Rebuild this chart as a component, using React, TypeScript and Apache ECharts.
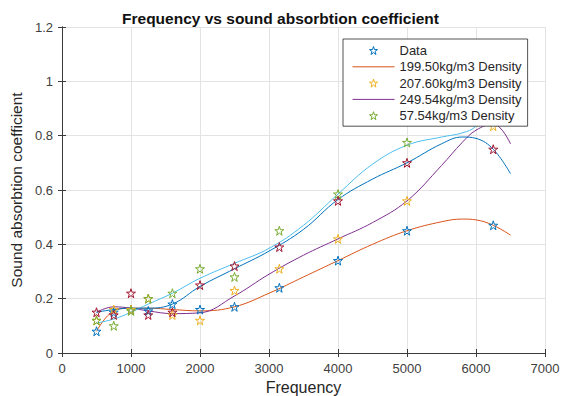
import React, { useEffect, useRef } from "react";
import * as echarts from "echarts";

// Measured frequencies (Hz)
const freqs = [500, 750, 1000, 1250, 1600, 2000, 2500, 3150, 4000, 5000, 6250];
// Star data sets
const data1 = [0.08, 0.15, 0.16, 0.155, 0.18, 0.16, 0.17, 0.24, 0.34, 0.45, 0.47];
const data2 = [0.12, 0.16, 0.16, 0.2, 0.14, 0.12, 0.23, 0.31, 0.42, 0.56, 0.835];
const data3 = [0.12, 0.1, 0.155, 0.2, 0.22, 0.31, 0.28, 0.45, 0.585, 0.775, 0.95];
const data4 = [0.15, 0.14, 0.22, 0.14, 0.15, 0.25, 0.32, 0.39, 0.56, 0.7, 0.75];

// Fitted curves, read at these frequencies
const fitFreqs = [500, 750, 1000, 1250, 1600, 2000, 2500, 3000, 3500, 4000, 4500, 5000, 5500, 5800, 6000, 6250, 6500];
const fit1 = [0.08, 0.155, 0.165, 0.165, 0.16, 0.155, 0.17, 0.22, 0.28, 0.34, 0.4, 0.45, 0.483, 0.493, 0.49, 0.47, 0.434];
const fit2 = [0.15, 0.17, 0.165, 0.155, 0.145, 0.148, 0.21, 0.29, 0.36, 0.42, 0.48, 0.56, 0.69, 0.775, 0.82, 0.843, 0.77];
const fit3 = [0.11, 0.125, 0.15, 0.18, 0.22, 0.275, 0.33, 0.385, 0.47, 0.585, 0.695, 0.765, 0.795, 0.81, 0.835, 0.92, 1.02];
const fit4 = [0.15, 0.16, 0.165, 0.165, 0.18, 0.245, 0.31, 0.375, 0.455, 0.565, 0.64, 0.7, 0.77, 0.795, 0.79, 0.75, 0.66];

const legendNames = [
  "Data",
  "199.50kg/m3 Density",
  "207.60kg/m3 Density",
  "249.54kg/m3 Density",
  "57.54kg/m3 Density",
];
const legendColors = ["#0072BD", "#D95319", "#EDB120", "#7E2F8E", "#77AC30"];
const legendIsStar = [true, false, true, false, true];

const xTicks = { min: 0, max: 7000, interval: 1000 };
const yTicks = { min: 0, max: 1.2, interval: 0.2 };

const STAR =
  "path://M1 0 L1.2245 0.691 L1.9511 0.691 L1.3633 1.118 L1.5878 1.809 L1 1.382 L0.4122 1.809 L0.6367 1.118 L0.0489 0.691 L0.7755 0.691 Z";

const pair = (xs: number[], ys: number[]) => xs.map((x, i) => [x, ys[i]]);

const starSeries = (name: string, color: string, ys: number[]) => ({
  name,
  type: "line",
  data: pair(freqs, ys),
  symbol: STAR,
  symbolSize: 9,
  showSymbol: true,
  lineStyle: { width: 0, opacity: 0 },
  itemStyle: { color: "rgba(255,255,255,0)", borderColor: color, borderWidth: 1 },
});

const fitSeries = (name: string, color: string, ys: number[]) => ({
  name,
  type: "line",
  data: pair(fitFreqs, ys),
  symbol: "none",
  smooth: 0.4,
  lineStyle: { width: 1, color },
  itemStyle: { color },
});

export default function App() {
  const ref = useRef<HTMLDivElement>(null);
  useEffect(() => {
    if (!ref.current) return;
    const chart = echarts.init(ref.current, undefined, { renderer: "svg" });
    const axisColor = "#3a3a3a";
    const font = "Liberation Sans, Arial, sans-serif";
    chart.setOption({
      animation: false,
      backgroundColor: "#fff",
      title: {
        text: "Frequency vs sound absorbtion coefficient",
        left: "center",
        top: 5,
        textStyle: { fontSize: 15.5, fontWeight: "bold", color: "#111", fontFamily: font },
      },
      grid: {
        left: 62,
        right: 16,
        top: 27,
        bottom: 43,
        containLabel: false,
        outerBoundsMode: "none",
      },
      legend: {
        data: legendNames.map((name, i) =>
          legendIsStar[i]
            ? {
                name,
                itemStyle: { color: "rgba(255,255,255,0)", borderColor: legendColors[i], borderWidth: 1 },
                lineStyle: { opacity: 0 },
              }
            : {
                name,
                itemStyle: { opacity: 0 },
                lineStyle: { color: legendColors[i], width: 1 },
              }
        ),
        orient: "vertical",
        left: 343,
        top: 39,
        itemWidth: 42,
        itemHeight: 10,
        itemGap: 3.3,
        padding: [5, 6, 4, 9],
        backgroundColor: "#fff",
        borderColor: "#262626",
        borderWidth: 0.8,
        textStyle: { fontSize: 13, lineHeight: 13, color: "#262626", fontFamily: font },
      },
      xAxis: [
        {
          type: "value",
          ...xTicks,
          position: "bottom",
          name: "Frequency",
          nameLocation: "middle",
          nameGap: 23,
          nameTextStyle: { fontSize: 16, color: "#262626", fontFamily: font },
          axisLine: { lineStyle: { color: axisColor, width: 1 } },
          axisTick: { inside: true, length: 4, lineStyle: { color: axisColor } },
          axisLabel: {
            fontSize: 13,
            color: "#404040",
            margin: 9,
            fontFamily: font,
            formatter: (v: number) => String(v),
          },
          splitLine: { show: true, lineStyle: { color: "#e3e3e3", width: 1 } },
        },
        {
          type: "value",
          ...xTicks,
          position: "top",
          axisLine: { show: true, lineStyle: { color: axisColor, width: 1 } },
          axisTick: { show: true, inside: true, length: 4, lineStyle: { color: axisColor } },
          axisLabel: { show: false },
          splitLine: { show: false },
        },
      ],
      yAxis: [
        {
          type: "value",
          ...yTicks,
          position: "left",
          name: "Sound absorbtion coefficient",
          nameLocation: "middle",
          nameGap: 34,
          nameTextStyle: { fontSize: 15.5, color: "#262626", fontFamily: font },
          axisLine: { show: true, lineStyle: { color: axisColor, width: 1 } },
          axisTick: { show: true, inside: true, length: 4, lineStyle: { color: axisColor } },
          axisLabel: { fontSize: 13, color: "#404040", margin: 9, fontFamily: font },
          splitLine: { show: true, lineStyle: { color: "#e3e3e3", width: 1 } },
        },
        {
          type: "value",
          ...yTicks,
          position: "right",
          axisLine: { show: true, lineStyle: { color: axisColor, width: 1 } },
          axisTick: { show: true, inside: true, length: 4, lineStyle: { color: axisColor } },
          axisLabel: { show: false },
          splitLine: { show: false },
        },
      ],
      series: [
        starSeries(legendNames[0], legendColors[0], data1),
        fitSeries(legendNames[1], legendColors[1], fit1),
        starSeries(legendNames[2], legendColors[2], data2),
        fitSeries(legendNames[3], legendColors[3], fit2),
        starSeries(legendNames[4], legendColors[4], data3),
        fitSeries("fit 57.54", "#4DBEEE", fit3),
        starSeries("data set 4", "#A2142F", data4),
        fitSeries("fit set 4", "#0072BD", fit4),
      ],
    });
    return () => chart.dispose();
  }, []);
  return (
    <div
      ref={ref}
      style={{ position: "fixed", left: 0, top: 0, width: 561, height: 396 }}
    />
  );
}
